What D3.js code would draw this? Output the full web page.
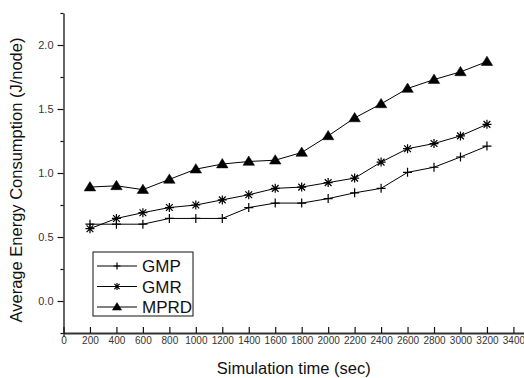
<!DOCTYPE html>
<html>
<head>
<meta charset="utf-8">
<script src="https://cdn.jsdelivr.net/npm/d3@7"></script>
<style>
  body { margin: 0; background: #fff; }
  svg { display: block; font-family: Arial, 'Liberation Sans', sans-serif; }
</style>
</head>
<body>
<div id="chart"></div>
<script>
// Chart data
const times = [200, 400, 600, 800, 1000, 1200, 1400, 1600, 1800, 2000, 2200, 2400, 2600, 2800, 3000, 3200]
const gmp  = [0.60, 0.60, 0.60, 0.645, 0.645, 0.645, 0.73, 0.765, 0.765, 0.80, 0.845, 0.88, 1.005, 1.045, 1.125, 1.21]
const gmr  = [0.565, 0.645, 0.69, 0.73, 0.75, 0.79, 0.83, 0.88, 0.89, 0.925, 0.96, 1.085, 1.19, 1.23, 1.29, 1.38]
const mprd = [0.89, 0.90, 0.87, 0.95, 1.03, 1.07, 1.09, 1.10, 1.16, 1.29, 1.43, 1.54, 1.66, 1.73, 1.79, 1.87]
const seriesNames = ['GMP', 'GMR', 'MPRD']
const seriesValues = [gmp, gmr, mprd]
const xTickValues = d3.range(0, 3401, 200)
const yMajorTicks = [0, 0.5, 1.0, 1.5, 2.0]
const yMinorTicks = [-0.25, 0.25, 0.75, 1.25, 1.75, 2.25]

const W = 524, H = 378
const svg = d3.select('#chart').append('svg')
  .attr('width', W)
  .attr('height', H)

// scales
const x = d3.scaleLinear().domain([0, 3480]).range([63.5, 524])
const y = d3.scaleLinear().domain([-0.25, 2.25]).range([333, 13])

// y axis: outward ticks, major + minor
const yAxis = svg.append('g')
  .attr('transform', 'translate(63.5,0)')
  .call(d3.axisLeft(y).tickValues(yMajorTicks).tickFormat(d3.format('.1f')).tickSize(6).tickSizeOuter(0).tickPadding(4))
yAxis.select('.domain').attr('stroke', '#111').attr('stroke-width', 1.3)
yAxis.selectAll('.tick line').attr('stroke', '#111').attr('stroke-width', 1.2)
yAxis.selectAll('.tick text').attr('font-size', '11px').attr('fill', '#333')
  .attr('font-family', 'Arial, Liberation Sans, sans-serif')

svg.append('g')
  .attr('transform', 'translate(63.5,0)')
  .call(d3.axisLeft(y).tickValues(yMinorTicks).tickFormat('').tickSize(3).tickSizeOuter(0))
  .call(g => g.select('.domain').remove())
  .selectAll('.tick line').attr('stroke', '#111').attr('stroke-width', 1.2)

// x axis: inward ticks
const xAxis = svg.append('g')
  .attr('transform', 'translate(0,333)')
  .call(d3.axisBottom(x).tickValues(xTickValues).tickFormat(d3.format('d')).tickSize(-6).tickSizeOuter(0).tickPadding(3))
xAxis.select('.domain').attr('stroke', '#333').attr('stroke-width', 2)
xAxis.selectAll('.tick line').attr('stroke', '#111').attr('stroke-width', 1.2)
xAxis.selectAll('.tick text').attr('font-size', '10px').attr('fill', '#333')
  .attr('font-family', 'Arial, Liberation Sans, sans-serif')
  .attr('y', 4)
// zero tick pokes below the axis a little
xAxis.select('.tick line').attr('y2', 4).attr('y1', -6)

// axis titles
svg.append('text')
  .attr('x', (x(0) + W) / 2)
  .attr('y', 374)
  .attr('text-anchor', 'middle')
  .attr('font-size', '16.5px')
  .attr('fill', '#111')
  .text('Simulation time (sec)')

svg.append('text')
  .attr('transform', 'translate(22,180) rotate(-90)')
  .attr('text-anchor', 'middle')
  .attr('font-size', '16.5px')
  .attr('fill', '#111')
  .text('Average Energy Consumption (J/node)')

// marker drawers
function drawMarker(g, name, cx, cy, s) {
  if (name === 'GMP') {
    g.append('path')
      .attr('d', `M${cx - s},${cy}H${cx + s}M${cx},${cy - s}V${cy + s}`)
      .attr('stroke', '#000').attr('stroke-width', 1.2).attr('fill', 'none')
  } else if (name === 'GMR') {
    const d = s * 0.75
    g.append('path')
      .attr('d', `M${cx - s},${cy}H${cx + s}M${cx},${cy - s}V${cy + s}M${cx - d},${cy - d}L${cx + d},${cy + d}M${cx - d},${cy + d}L${cx + d},${cy - d}`)
      .attr('stroke', '#000').attr('stroke-width', 1.2).attr('fill', 'none')
  } else {
    const h = s * 1.1
    g.append('path')
      .attr('d', `M${cx},${cy - h}L${cx + s * 1.15},${cy + h * 0.7}L${cx - s * 1.15},${cy + h * 0.7}Z`)
      .attr('fill', '#000').attr('stroke', '#000').attr('stroke-width', 0.5)
  }
}

const line = d3.line()
  .x((d, i) => x(times[i]))
  .y(d => y(d))

seriesValues.forEach((vals, k) => {
  svg.append('path')
    .datum(vals)
    .attr('d', line)
    .attr('fill', 'none')
    .attr('stroke', '#000')
    .attr('stroke-width', 1)
  const g = svg.append('g')
  vals.forEach((v, i) => drawMarker(g, seriesNames[k], x(times[i]), y(v), seriesNames[k] === 'MPRD' ? 5 : 4.5))
})

// legend
const legend = svg.append('g').attr('transform', 'translate(93,252)')
legend.append('rect')
  .attr('x', 0).attr('y', 0)
  .attr('width', 100).attr('height', 64)
  .attr('fill', '#fff').attr('stroke', '#111').attr('stroke-width', 1)
seriesNames.forEach((name, i) => {
  const ly = 14 + i * 20.5
  legend.append('line')
    .attr('x1', 4).attr('x2', 44)
    .attr('y1', ly).attr('y2', ly)
    .attr('stroke', '#000').attr('stroke-width', 1)
  drawMarker(legend, name, 24, ly, name === 'MPRD' ? 4 : 3.5)
  legend.append('text')
    .attr('x', 49)
    .attr('y', ly + 6)
    .attr('font-size', '17px')
    .attr('fill', '#111')
    .text(name)
})
</script>
</body>
</html>
